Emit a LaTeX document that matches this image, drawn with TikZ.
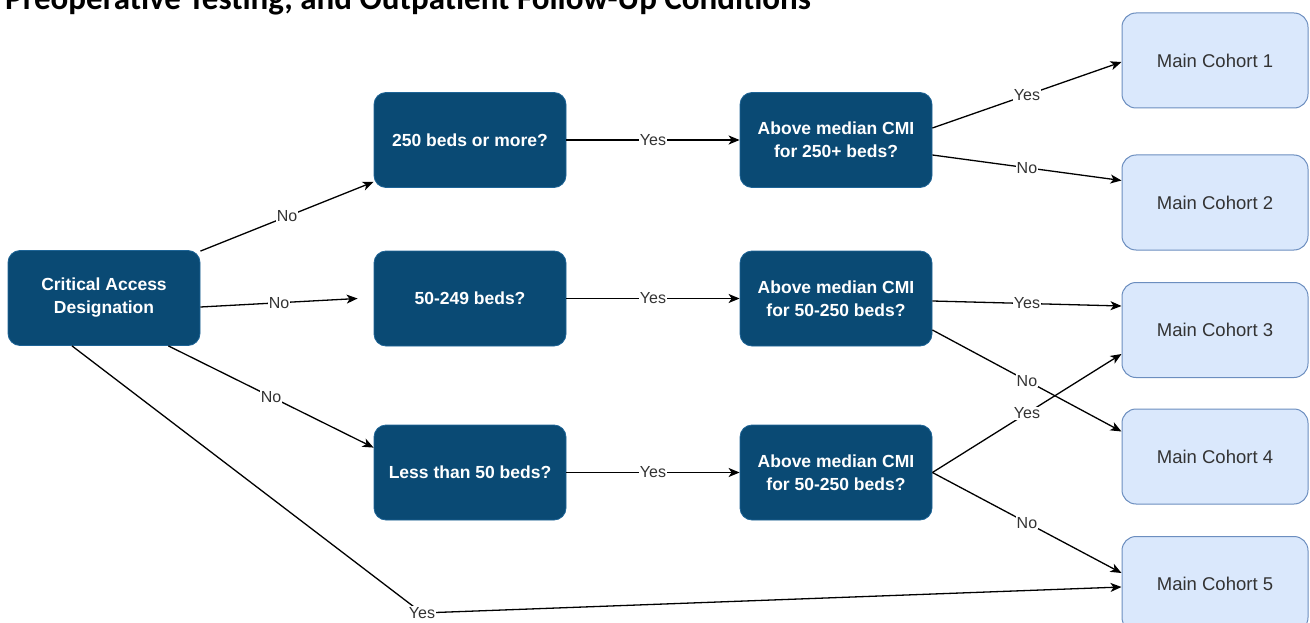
\documentclass[tikz,border=0pt]{standalone}
\usepackage{fontspec}
\setmainfont{Liberation Sans}
\newfontfamily\titlefont{Carlito}
\usetikzlibrary{calc,arrows.meta}
\definecolor{navy}{RGB}{10,74,116}
\definecolor{navyedge}{RGB}{30,100,150}
\definecolor{paleblue}{HTML}{DAE8FC}
\definecolor{paleedge}{HTML}{6C8EBF}
\definecolor{txtgray}{HTML}{333333}
\tikzset{
  question/.style={draw=navyedge, line width=0.8pt, fill=navy, rounded corners=12pt,
    minimum width=192pt, minimum height=95pt, align=center, text=white,
    font=\fontsize{17.5pt}{23pt}\selectfont\bfseries, inner sep=0pt},
  cohort/.style={draw=paleedge, line width=1pt, fill=paleblue, rounded corners=14pt,
    minimum width=186pt, minimum height=95pt, align=center, text=txtgray,
    font=\fontsize{18.5pt}{23pt}\selectfont, inner sep=0pt},
  flow/.style={draw=black, line width=1.3pt,
    -{Stealth[length=11pt,width=9pt,inset=3pt]}},
  lbl/.style={fill=white, text=txtgray, inner sep=1pt,
    font=\fontsize{16pt}{18pt}\selectfont}
}
\begin{document}
\begin{tikzpicture}[x=1pt,y=-1pt]
  \useasboundingbox (0,0) rectangle (1310,623);
  \clip (0,0) rectangle (1310,623);

  % heading
  \node[anchor=base west, inner sep=0pt, font=\titlefont\bfseries\fontsize{33pt}{36pt}\selectfont]
    (heading) at (5,10) {Preoperative Testing, and Outpatient Follow-Up Conditions};

  % decision nodes
  \node[question] (ca) at (104,298) {Critical Access\\Designation};
  \node[question] (q1) at (470,140) {250 beds or more?};
  \node[question] (q2) at (470,298.5) {50-249 beds?};
  \node[question] (q3) at (470,472.5) {Less than 50 beds?};
  \node[question] (c1) at (836,140) {Above median CMI\\for 250+ beds?};
  \node[question] (c2) at (836,298.5) {Above median CMI\\for 50-250 beds?};
  \node[question] (c3) at (836,472.5) {Above median CMI\\for 50-250 beds?};

  % outcome nodes
  \node[cohort] (m1) at (1215,60.5) {Main Cohort 1};
  \node[cohort] (m2) at (1215,202.5) {Main Cohort 2};
  \node[cohort] (m3) at (1215,330) {Main Cohort 3};
  \node[cohort] (m4) at (1215,456.5) {Main Cohort 4};
  \node[cohort] (m5) at (1215,584) {Main Cohort 5};

  % loose end and bend point
  \coordinate (q2in) at ($(q2.west)+(-16,0)$);
  \coordinate (bend) at (422,613);

  % first split
  \draw[flow] ($(ca.north east)+(0,1)$) -- node[lbl]{No} ($(q1.south west)+(0,-6)$);
  \draw[flow] ($(ca.east)+(0,9)$) -- node[lbl]{No} (q2in);
  \draw[flow] ($(ca.south east)+(-32,0)$) -- node[lbl]{No} ($(q3.north west)+(0,23)$);
  \draw[flow] ($(ca.south)+(-32,0)$) -- (bend) -- ($(m5.west)+(0,3)$);
  \node[lbl] (yesbend) at (bend) {Yes};

  % bed-size checks
  \draw[flow] (q1.east) -- node[lbl]{Yes} (c1.west);
  \draw[flow] (q2.east) -- node[lbl]{Yes} (c2.west);
  \draw[flow] (q3.east) -- node[lbl]{Yes} (c3.west);

  % CMI checks
  \draw[flow] ($(c1.east)+(0,-12)$) -- node[lbl]{Yes} ($(m1.west)+(0,1.5)$);
  \draw[flow] ($(c1.east)+(0,15)$) -- node[lbl]{No} ($(m2.west)+(0,-22)$);
  \draw[flow] ($(c2.east)+(0,2.5)$) -- node[lbl]{Yes} ($(m3.west)+(0,-24)$);
  \draw[flow] ($(c2.east)+(0,31.5)$) -- node[lbl]{No} ($(m4.west)+(0,-25)$);
  \draw[flow] (c3.east) -- node[lbl]{Yes} ($(m3.west)+(0,24)$);
  \draw[flow] (c3.east) -- node[lbl]{No} ($(m5.west)+(0,-11)$);
\end{tikzpicture}
\end{document}
